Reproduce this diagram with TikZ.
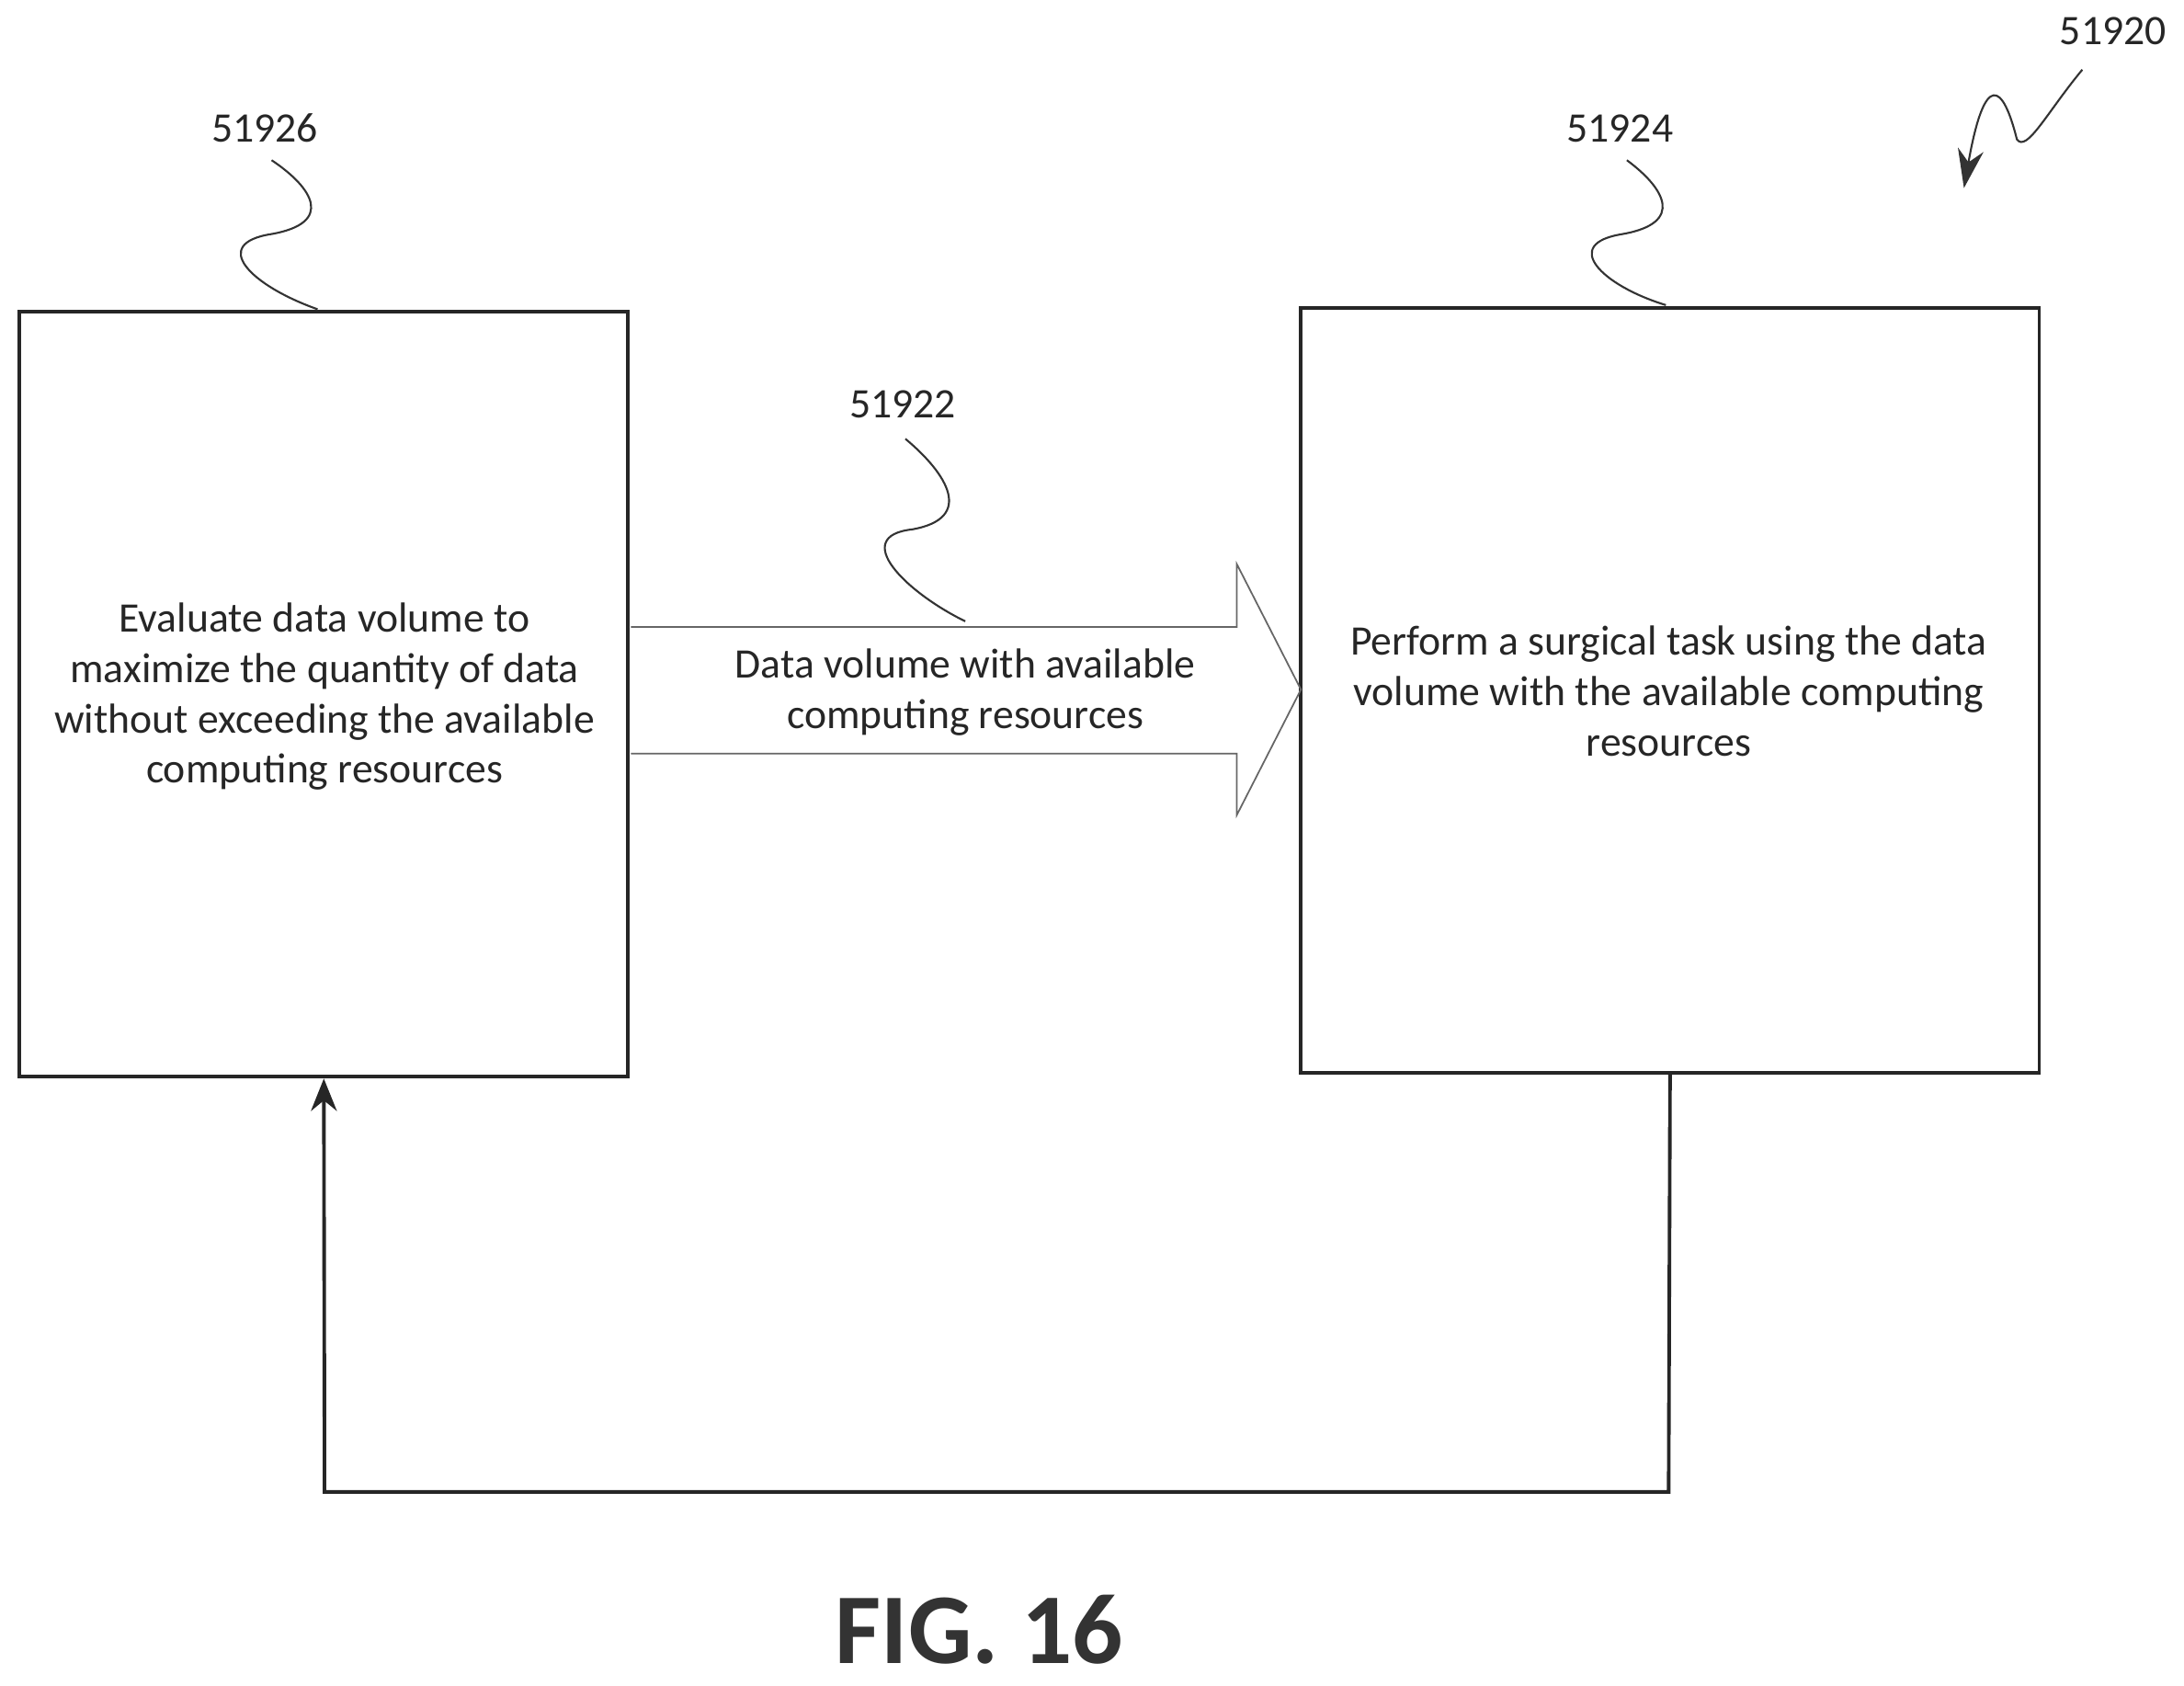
\documentclass[tikz,border=0pt]{standalone}
\usepackage{fontspec}
\setmainfont{Carlito}
\usetikzlibrary{arrows.meta,positioning,shapes.arrows}

\tikzset{
  box/.style={draw, line width=1.1pt, black!85, inner sep=0pt},
  txt/.style={align=center, font=\fontsize{13}{15.6}\selectfont, text=black!85},
  lead/.style={line width=0.6pt, black!80},
  refnum/.style={font=\fontsize{13}{15}\selectfont, text=black!85}
}

\begin{document}
\begin{tikzpicture}[x=0.01515cm, y=-0.01515cm]
\useasboundingbox (0,0) rectangle (1568,1210);

% Boxes
\node[box, minimum width=437*0.01515cm, minimum height=549*0.01515cm] (eval) at (232.5,498.5) {};
\node[box, minimum width=530*0.01515cm, minimum height=549*0.01515cm] (task) at (1199,495.5) {};
\node[txt] at (233,500) {Evaluate data volume to\\maximize the quantity of data\\without exceeding the available\\computing resources};
\node[txt] (tasktxt) at (1198,496) {Perform a surgical task using the data\\volume with the available computing\\resources};

% Big hollow arrow
\draw[line width=0.5pt, black!60] (453,450) -- (888,450) -- (888,405) -- (934,495)
  -- (888,585) -- (888,541) -- (453,541);
\node[txt] (flow) at (693,497) {Data volume with available\\computing resources};

% Feedback loop
\coordinate (fbr) at (1198,1071);
\coordinate (fbl) at (233,1071);
\draw[line width=1.1pt, black!85, -{Stealth[length=10pt,width=8pt]}] (task.south) -- (fbr) -- (fbl) -- (eval.south);

% Reference numerals
\node[refnum] (n26) at (190,92) {51926};
\node[refnum] (n24) at (1163,92) {51924};
\node[refnum] (n22) at (648,290) {51922};
\node[refnum] (n20) at (1517,22) {51920};

\draw[lead] (228,222) .. controls (180,205) and (150,175) .. (195,168)
  .. controls (240,160) and (225,135) .. (195,115);
\draw[lead] (1196,219) .. controls (1150,205) and (1120,175) .. (1165,168)
  .. controls (1210,160) and (1195,135) .. (1168,115);
\draw[lead] (693,446) .. controls (650,425) and (610,385) .. (655,380)
  .. controls (700,372) and (680,340) .. (650,315);
\draw[lead, -{Stealth[length=12pt,width=8pt]}] (1495,50) .. controls (1470,80) and (1455,110) .. (1448,100)
  .. controls (1438,60) and (1425,50) .. (1410,135);

% Figure label
\node[font=\fontsize{31}{36}\selectfont\bfseries, text=black!80] (fig) at (703,1170) {FIG. 16};
\end{tikzpicture}
\end{document}
